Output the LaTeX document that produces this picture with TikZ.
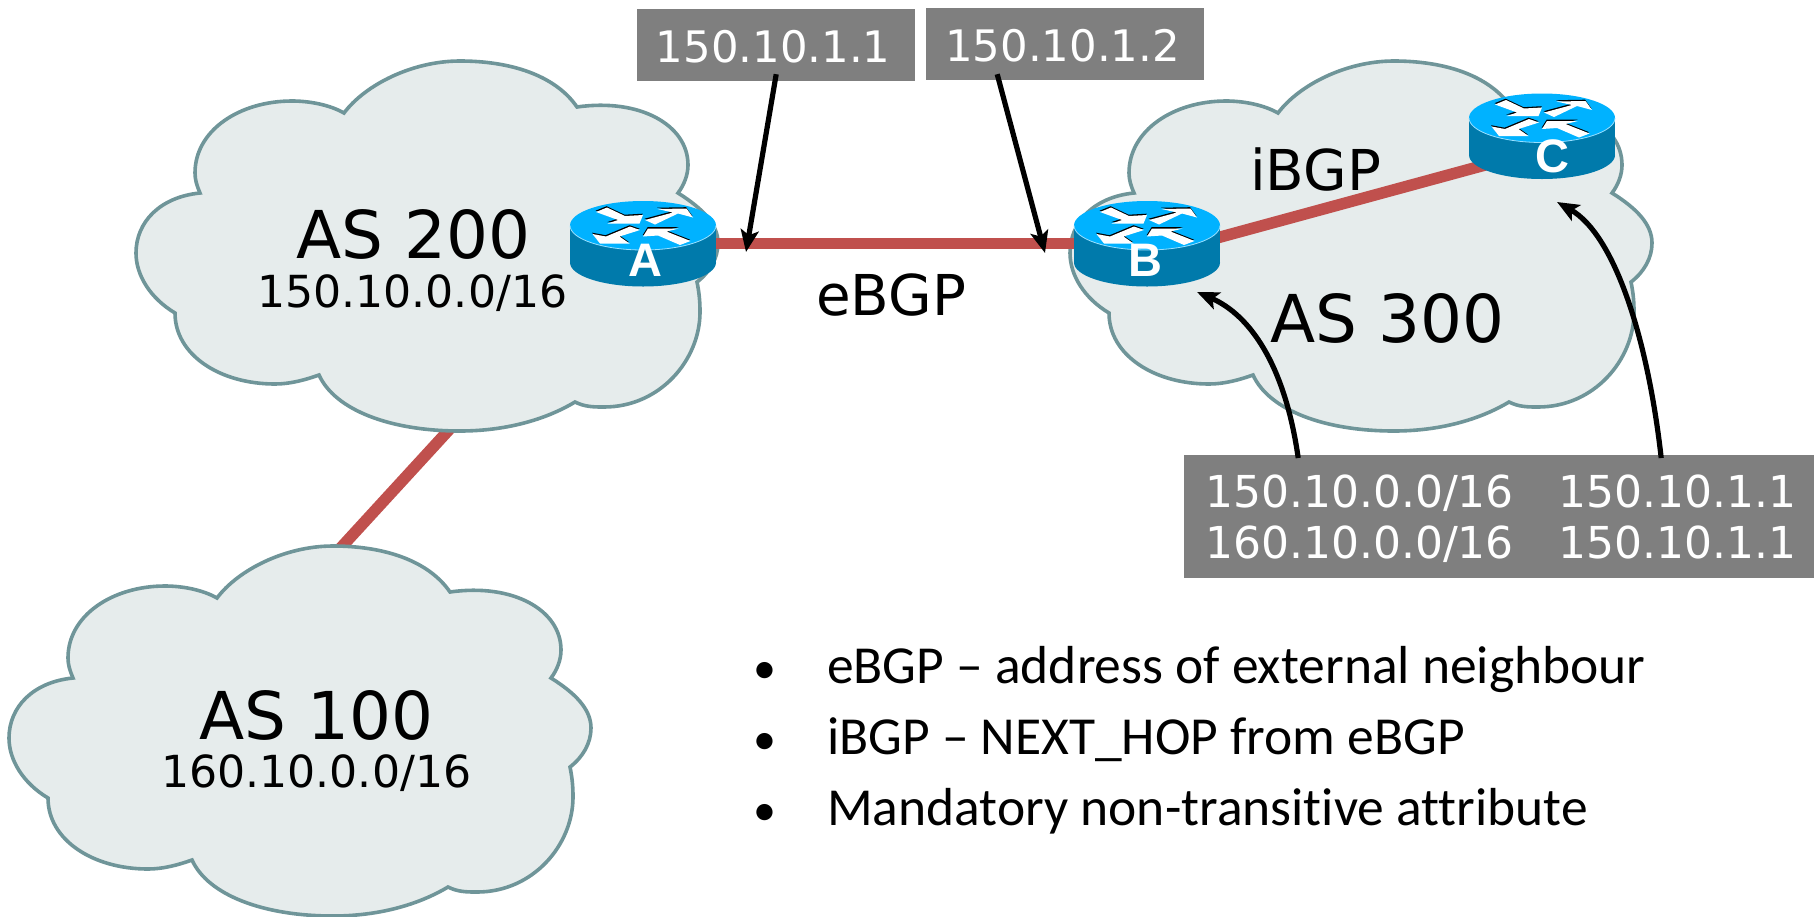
\documentclass[tikz,border=0pt]{standalone}
\usepackage{fontspec}
\setmainfont{DejaVu Sans}
\newfontfamily\carl[Ligatures=CommonOff]{Carlito}
\newfontfamily\lib{Liberation Sans}
\usetikzlibrary{arrows.meta}
\definecolor{cloudfill}{HTML}{E6ECEC}
\definecolor{cloudline}{HTML}{6F9599}
\definecolor{linkred}{HTML}{C0504D}
\definecolor{boxgrey}{HTML}{7F7F7F}
\definecolor{rtop}{HTML}{00B2FF}
\definecolor{rside}{HTML}{007AAB}
\newcommand{\rarrowa}{(-47,-13.5) -- (-36,-18) -- (-18,-9.5) -- (0,-10.5) -- (-3.5,-2) -- (-35.5,-2) -- (-25,-5.5) -- cycle}
\newcommand{\rarrowb}{(2,-5.5) -- (30,-13) -- (14.5,-16.5) -- (43.5,-17) -- (50,-8) -- (35,-12) -- (12,-1) -- cycle}
\newcommand{\rarrowc}{(-13,1) -- (-3,4.5) -- (-23.5,11) -- (-13.5,18) -- (-43,18) -- (-50.5,8.5) -- (-37,11) -- cycle}
\newcommand{\rarrowd}{(0,11) -- (5,3) -- (36,3) -- (23.5,6) -- (47.5,15.5) -- (37,19.5) -- (15,10) -- cycle}
\tikzset{
  x=1pt,y=-1pt,
  cloudshape/.pic={
    \draw[fill=cloudfill,draw=cloudline,line width=3.6pt,line join=miter]
      (344,113) .. controls (365,85) and (412,61) .. (460,61)
      .. controls (510,61) and (555,75) .. (577,107)
      .. controls (640,98) and (688,125) .. (688,165)
      .. controls (688,175) and (684,185) .. (678,193)
      .. controls (702,208) and (718,224) .. (718,243)
      .. controls (718,258) and (710,272) .. (697,282)
      .. controls (699,292) and (700,300) .. (700,312)
      .. controls (700,360) and (660,407) .. (604,407)
      .. controls (594,407) and (585,407) .. (575,402)
      .. controls (545,420) and (505,431) .. (460,431)
      .. controls (390,431) and (335,410) .. (319,375)
      .. controls (305,380) and (290,384) .. (275,384)
      .. controls (220,384) and (175,355) .. (175,313)
      .. controls (150,298) and (136,275) .. (136,253)
      .. controls (136,222) and (160,197) .. (200,193)
      .. controls (197,186) and (195,180) .. (195,173)
      .. controls (195,130) and (240,101) .. (292,101)
      .. controls (310,101) and (330,105) .. (344,113) -- cycle;
  },
  routershape/.pic={
    \fill[rside] (0,37) ellipse [x radius=73pt,y radius=24pt];
    \fill[rside] (-73,0) rectangle (73,37);
    \fill[rtop] (0,0) ellipse [x radius=73pt,y radius=24.5pt];
    \draw[white!60!rtop,line width=0.8pt] (-73,0) .. controls (-73,13.5) and (-40,24.5) .. (0,24.5) .. controls (40,24.5) and (73,13.5) .. (73,0);
    \foreach \p in {\rarrowa,\rarrowb,\rarrowc,\rarrowd}{
      \fill[black,yshift=1.3pt,xshift=-0.4pt] \p;
      \fill[white] \p;
    }
  },
  grey/.style={fill=boxgrey,text=white,inner xsep=0pt,inner ysep=0pt,anchor=base west,font=\fontsize{43.4}{51}\selectfont},
  big/.style={anchor=base west,inner sep=0pt,font=\fontsize{66}{70}\selectfont},
  mid/.style={anchor=base west,inner sep=0pt,font=\fontsize{44.2}{50}\selectfont},
  lab/.style={anchor=base west,inner sep=0pt,font=\fontsize{56.3}{60}\selectfont},
  bul/.style={anchor=base west,inner sep=0pt,font=\carl\fontsize{53.5}{60}\selectfont},
  rl/.style={anchor=base,inner sep=0pt,text=white,font=\lib\bfseries\fontsize{47}{50}\selectfont},
  rbox/.style={minimum width=146pt,minimum height=85pt,inner sep=0pt},
  link/.style={draw=linkred,line width=11.5pt},
  ptr/.style={draw=black,line width=5.2pt,-{Stealth[length=22pt,width=18pt,inset=5pt]}},
}
\begin{document}
\begin{tikzpicture}
\useasboundingbox (0,0) rectangle (1814,916);
\clip (0,0) rectangle (1814,916);
% named anchors
\node[rbox] (A) at (643,243.5) {};
\node[rbox] (B) at (1147,243.5) {};
\node[rbox] (C) at (1542,136) {};
\coordinate (as200b) at (458,420);
\coordinate (as100t) at (336,553);
% link between AS 200 and AS 100
\draw[link] (as200b) -- (as100t);
% clouds
\pic (c200) at (0,0) {cloudshape};
\pic (c300) at (934,0) {cloudshape};
\pic (c100) at (-127,485) {cloudshape};
% links
\draw[link] (A.east) -- (B.west);
\draw[link] ([yshift=-13.5pt]B.center) -- ([yshift=-13.5pt]C.center);
% routers
\pic (ra) at (643,225.5) {routershape};
\pic (rb) at (1147,225.5) {routershape};
\pic (rc) at (1542,118) {routershape};
\node[rl] (la) at (645,276) {A};
\node[rl] (lb) at (1145,276) {B};
\node[rl] (lc) at (1552,172) {C};
% texts
\node[big] (t200) at (296,258) {AS 200};
\node[mid] (n200) at (257,307) {150.10.0.0/16};
\node[big] (t300) at (1270,342) {AS 300};
\node[big] (t100) at (199,739) {AS 100};
\node[mid] (n100) at (161,787) {160.10.0.0/16};
\node[lab] (ebgp) at (816,315) {eBGP};
\node[lab] (ibgp) at (1250,190) {iBGP};
% grey address boxes
\node[grey,minimum width=278pt,text height=53pt,text depth=19pt] (b1) at (637,62) {\hspace*{-6pt}150.10.1.1};
\node[grey,minimum width=278pt,text height=53pt,text depth=19pt] (b2) at (926,61) {\hspace*{-5pt}150.10.1.2};
% pointers
\coordinate (tipa) at (746,252);
\coordinate (tipb) at (1045,253);
\coordinate (tipc) at (1197,292);
\coordinate (tipd) at (1557,202);
\draw[ptr] ([yshift=7pt]b1.south) -- (tipa);
\draw[ptr] ([xshift=-68pt,yshift=6pt]b2.south) -- (tipb);
\node[anchor=north west,fill=boxgrey,text=white,inner xsep=21pt,inner ysep=0pt,text width=588pt,text height=52pt,text depth=71pt,align=left,font=\fontsize{44}{51}\selectfont] (tbl) at (1184,455)
  {\makebox[353pt][l]{150.10.0.0/16}150.10.1.1\\\makebox[353pt][l]{160.10.0.0/16}150.10.1.1};
\draw[ptr] ([xshift=-201pt,yshift=-3pt]tbl.north) .. controls (1285,365) and (1250,315) .. (tipc);
\draw[ptr] ([xshift=162pt,yshift=-3pt]tbl.north) .. controls (1648,340) and (1615,235) .. (tipd);
% bullets
\node[anchor=base,inner sep=0pt,font=\carl\fontsize{46}{55}\selectfont] (d1) at (765,683) {•};
\node[anchor=base,inner sep=0pt,font=\carl\fontsize{46}{55}\selectfont] (d2) at (765,754) {•};
\node[anchor=base,inner sep=0pt,font=\carl\fontsize{46}{55}\selectfont] (d3) at (765,825) {•};
\node[bul] (l1) at (827,683) {eBGP – address of external neighbour};
\node[bul] (l2) at (827,754) {iBGP – NEXT\_HOP from eBGP};
\node[bul] (l3) at (827,825) {Mandatory non-transitive attribute};
\end{tikzpicture}
\end{document}
